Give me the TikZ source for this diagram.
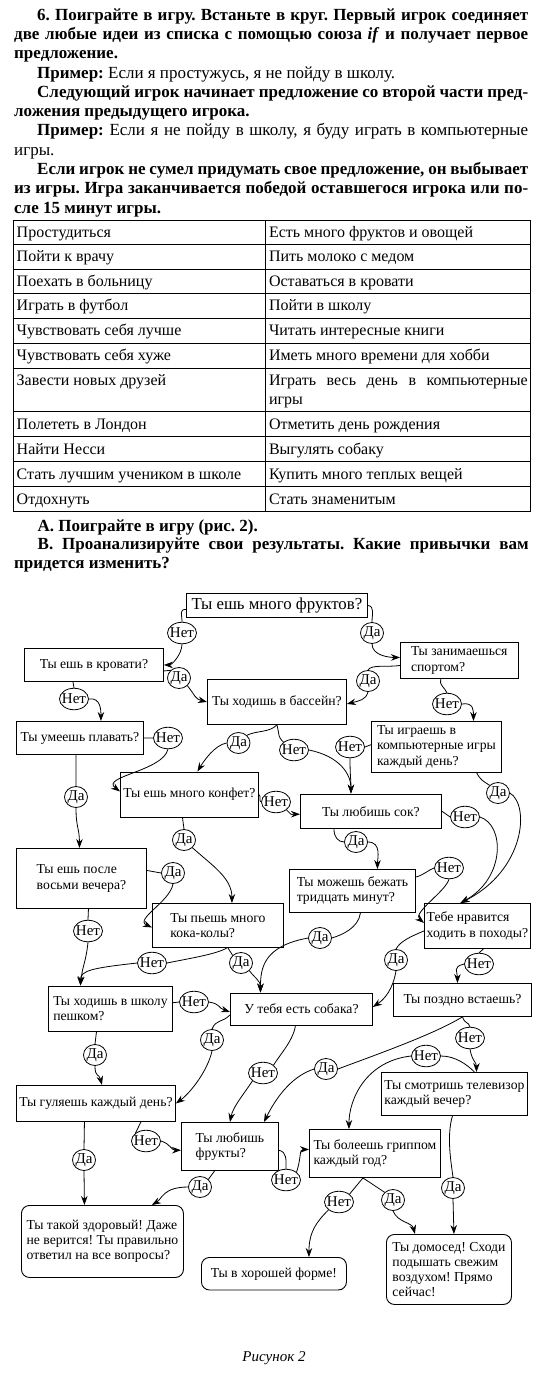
\documentclass[tikz,border=0pt]{standalone}
\usepackage{fontspec}
\setmainfont{Liberation Serif}
\usetikzlibrary{arrows.meta,calc,shapes.geometric}
\newcommand\ftop{\fontsize{17}{19.25}\selectfont}
\newcommand\ftab{\fontsize{16}{18.4}\selectfont}
\newcommand\fbx{\fontsize{13.7}{15.2}\selectfont}
\newcommand\fbig{\fontsize{16.8}{19}\selectfont}
\newcommand\flab{\fontsize{15}{15}\selectfont}
\newcommand\justline[2]{\makebox[#1][s]{#2}}
\frenchspacing
\begin{document}
\frenchspacing
\begin{tikzpicture}[x=1pt,y=-1pt,
  tb/.style={anchor=base west,inner sep=0pt,font=\ftop\bfseries},
  tr/.style={anchor=base west,inner sep=0pt,font=\ftop},
  tc/.style={anchor=base west,inner sep=0pt,font=\ftab},
  tabline/.style={line width=0.9pt},
  qb/.style={draw,line width=0.9pt,anchor=north west,inner sep=0pt,align=center,font=\fbx},
  ql/.style={qb,align=left},
  fin/.style={qb,align=left,rounded corners=8pt},
  lab/.style={draw,ellipse,line width=0.8pt,inner sep=-6pt,font=\flab,fill=white},
  net/.style={lab,minimum width=29pt,minimum height=21.5pt},
  da/.style={lab,minimum width=23pt,minimum height=21pt},
  con/.style={line width=0.8pt},
  arr/.style={con,-{Stealth[length=9pt,width=6.5pt]}}]
\fill[white] (0,0) rectangle (550,1375);
\useasboundingbox (0,0) rectangle (550,1375);

% ---------- instructions ----------
\node[tb] (t1) at (37,20.5) {\justline{491pt}{6. Поиграйте в игру. Встаньте в круг. Первый игрок соединяет}};
\node[tb] (t2) at (14,39.75) {\justline{514pt}{две любые идеи из списка с помощью союза \textit{if} и получает первое}};
\node[tb] (t3) at (14,59) {предложение.};
\node[tr] (t4) at (37,78.25) {\textbf{Пример:} Если я простужусь, я не пойду в школу.};
\node[tb] (t5) at (37,97.5) {\justline{491pt}{Следующий игрок начинает предложение со второй части пред-}};
\node[tb] (t6) at (14,116.75) {ложения предыдущего игрока.};
\node[tr] (t7) at (37,136) {\justline{491pt}{\textbf{Пример:} Если я не пойду в школу, я буду играть в компьютерные}};
\node[tr] (t8) at (14,155.25) {игры.};
\node[tb] (t9) at (37,174.5) {\justline{491pt}{Если игрок не сумел придумать свое предложение, он выбывает}};
\node[tb] (t10) at (14,193.75) {\justline{514pt}{из игры. Игра заканчивается победой оставшегося игрока или по-}};
\node[tb] (t11) at (14,213) {сле 15 минут игры.};

% ---------- table ----------
\draw[tabline] (13,220) rectangle (530,511.7);
\draw[tabline] (265.5,220) -- (265.5,511.7);
\foreach \yy in {244.3,269,293.3,318.3,343.3,368.3,411.7,436.7,461.7,486.7}
  \draw[tabline] (13,\yy) -- (530,\yy);
\foreach \yy/\ta/\tbb [count=\i] in {
  237.5/Простудиться/Есть много фруктов и овощей,
  261.8/Пойти к врачу/Пить молоко с медом,
  286.5/Поехать в больницу/Оставаться в кровати,
  310.8/Играть в футбол/Пойти в школу,
  335.8/Чувствовать себя лучше/Читать интересные книги,
  360.8/Чувствовать себя хуже/Иметь много времени для хобби,
  429.2/Полететь в Лондон/Отметить день рождения,
  454.2/Найти Несси/Выгулять собаку,
  479.2/Стать лучшим учеником в школе/Купить много теплых вещей,
  504.2/Отдохнуть/Стать знаменитым}{
  \node[tc] (la\i) at (16.5,\yy) {\ta};
  \node[tc] (ra\i) at (268.8,\yy) {\tbb};
}
\node[tc] (lb7) at (16.5,385.8) {Завести новых друзей};
\node[tc] (rb7) at (268.8,385.8) {\justline{258.6pt}{Играть весь день в компьютерные}};
\node[tc] (rc7) at (268.8,404.2) {игры};

\node[tb] (a1) at (37.5,531) {А. Поиграйте в игру (рис. 2).};
\node[tb] (b1) at (37.5,549.5) {\justline{491pt}{В. Проанализируйте свои результаты. Какие привычки вам}};
\node[tb] (b2) at (14,568) {придется изменить?};

% ---------- flowchart boxes ----------
\node[qb,minimum width=181pt,minimum height=24pt,font=\fbig] (A) at (186,593) {Ты ешь много фруктов?};
\node[qb,minimum width=139pt,minimum height=33pt] (B) at (24,648) {Ты ешь в кровати?};
\node[ql,minimum width=117.5pt,minimum height=36pt] (C) at (400,642) {Ты занимаешься\\спортом?};
\node[qb,minimum width=139pt,minimum height=45pt] (D) at (207,679) {Ты ходишь в бассейн?};
\node[qb,minimum width=127pt,minimum height=33pt] (E) at (16,721) {Ты умеешь плавать?};
\node[ql,minimum width=130pt,minimum height=50.5pt] (F) at (371,721) {Ты играешь в\\компьютерные игры\\каждый день?};
\node[qb,minimum width=138pt,minimum height=45pt] (G) at (120,771.5) {Ты ешь много конфет?};
\node[qb,minimum width=141pt,minimum height=34.5pt] (H) at (300,793.5) {Ты любишь сок?};
\node[ql,minimum width=130pt,minimum height=60pt] (I) at (16,848) {Ты ешь после\\восьми вечера?};
\node[ql,minimum width=126pt,minimum height=43pt] (L) at (289,869) {Ты можешь бежать\\тридцать минут?};
\node[ql,minimum width=131pt,minimum height=44pt] (J) at (152,903) {Ты пьешь много\\кока-колы?};
\node[ql,minimum width=106pt,minimum height=45pt] (K) at (424,903) {Тебе нравится\\ходить в походы?};
\node[ql,minimum width=124pt,minimum height=45.5pt] (M) at (48,985.5) {Ты ходишь в школу\\пешком?};
\node[qb,minimum width=142pt,minimum height=32pt] (N) at (230,992.5) {У тебя есть собака?};
\node[qb,minimum width=138pt,minimum height=33pt] (O) at (393,983) {Ты поздно встаешь?};
\node[qb,minimum width=159pt,minimum height=36pt] (P) at (16,1085) {Ты гуляешь каждый день?};
\node[ql,minimum width=146pt,minimum height=43pt] (S) at (381,1072) {Ты смотришь телевизор\\каждый вечер?};
\node[ql,minimum width=97pt,minimum height=47.5pt] (Q) at (181,1122) {Ты любишь\\фрукты?};
\node[ql,minimum width=131pt,minimum height=48pt] (T) at (309,1129) {Ты болеешь гриппом\\каждый год?};
\node[fin,minimum width=162pt,minimum height=72pt] (R) at (21,1205) {Ты такой здоровый! Даже\\не верится! Ты правильно\\ответил на все вопросы?};
\node[fin,minimum width=145pt,minimum height=32.5pt] (V) at (201,1257) {Ты в хорошей форме!};
\node[fin,minimum width=125pt,minimum height=70pt] (U) at (386,1234) {Ты домосед! Сходи\\подышать свежим\\воздухом! Прямо\\сейчас!};

% ---------- answer labels ----------
\node[net] (l1) at (182,633) {Нет};
\node[da]  (l2) at (372,633) {Да};
\node[da]  (l3) at (179,678) {Да};
\node[da]  (l4) at (368,681) {Да};
\node[net] (l5) at (74,699) {Нет};
\node[net] (l6) at (447,704) {Нет};
\node[net] (l7) at (168,738) {Нет};
\node[da]  (l8) at (238.5,743) {Да};
\node[net] (l9) at (294,750) {Нет};
\node[net] (l10) at (350,747) {Нет};
\node[da]  (l11) at (76,797) {Да};
\node[net] (l12) at (276,802) {Нет};
\node[da]  (l13) at (184,840) {Да};
\node[da]  (l14) at (498,793) {Да};
\node[net] (l15) at (465,817) {Нет};
\node[da]  (l16) at (356,842) {Да};
\node[da]  (l17) at (173,873) {Да};
\node[net] (l18) at (449,868) {Нет};
\node[net] (l19) at (88,931) {Нет};
\node[net] (l20) at (152,963) {Нет};
\node[da]  (l21) at (241,963) {Да};
\node[da]  (l22) at (320,938) {Да};
\node[da]  (l23) at (396,960) {Да};
\node[net] (l24) at (479,964) {Нет};
\node[net] (l25) at (194,1002) {Нет};
\node[da]  (l26) at (212,1040) {Да};
\node[da]  (l27) at (95,1055) {Да};
\node[net] (l28) at (263,1073) {Нет};
\node[da]  (l29) at (326,1069) {Да};
\node[net] (l30) at (470,1038) {Нет};
\node[net] (l31) at (426,1056) {Нет};
\node[net] (l32) at (146,1141) {Нет};
\node[da]  (l33) at (84,1160) {Да};
\node[da]  (l34) at (200,1187) {Да};
\node[net] (l35) at (286,1180) {Нет};
\node[net] (l36) at (339,1202) {Нет};
\node[da]  (l37) at (393,1200) {Да};
\node[da]  (l38) at (453,1188) {Да};

% ---------- connectors ----------
\draw[con] ($(A.west)+(0,4)$) .. controls +(-7,0) and +(0,-8) .. (l1.north);
\draw[arr] (l1.south) .. controls +(0,10) and +(8,0) .. (B.east);
\draw[con] (A.east) .. controls +(7,1) and +(0,-8) .. (l2.north);
\draw[arr] (l2.south) .. controls +(0,12) and +(-10,0) .. ($(C.west)+(0,-3)$);
\draw[con] ($(B.east)+(0,6)$) -- (l3.north west);
\draw[arr] (l3.south east) .. controls +(8,10) and +(-12,-3) .. (D.west);
\draw[con] ($(B.south)+(-21,0)$) -- (l5.north);
\draw[arr] (l5.east) .. controls +(12,-2) and +(0,-10) .. ($(E.north)+(21,0)$);
\draw[con] ($(C.west)+(0,5)$) .. controls +(-12,2) and +(3,-6) .. (l4.north);
\draw[arr] (l4.south) .. controls +(-2,8) and +(12,-3) .. ($(D.east)+(0,2)$);
\draw[con] ($(C.south)+(-18.5,0)$) .. controls +(-2,6) and +(-2,-5) .. (l6.north);
\draw[arr] (l6.east) .. controls +(12,-2) and +(0,-10) .. ($(F.north)+(37,0)$);
\draw[con] (E.east) -- (l7.west);
\draw[arr] (l7.south) .. controls +(-5,22) and +(-20,-15) .. ($(G.west)+(0,-3)$);
\draw[con] ($(E.south)+(-4,0)$) -- (l11.north);
\draw[arr] (l11.south) .. controls +(0,20) and +(0,-20) .. ($(I.north)+(-2,0)$);
\draw[con] (D.south) .. controls +(-8,8) and +(10,-5) .. (l8.north east);
\draw[arr] (l8.west) .. controls +(-12,2) and +(6,-10) .. ($(G.north)+(8,0)$);
\draw[con] (D.south) .. controls +(3,12) and +(-6,-6) .. (l9.north west);
\draw[arr] (l9.east) .. controls +(30,6) and +(0,-20) .. ($(H.north)+(-20,0)$);
\draw[con] ($(F.west)+(0,-2)$) -- (l10.east);
\draw[arr] (l10.south) .. controls +(0,18) and +(0,-15) .. ($(H.north)+(-20,0)$);
\draw[con] ($(F.south)+(40,0)$) .. controls +(4,8) and +(-6,-4) .. (l14.north west);
\draw[arr] (l14.east) .. controls +(20,12) and +(65,-33) .. ($(K.north)+(-17,0)$);
\draw[con] (G.east) .. controls +(3,3) and +(-3,-2) .. (l12.west);
\draw[arr] (l12.south east) .. controls +(6,6) and +(-10,0) .. ($(H.west)+(0,3)$);
\draw[con] ($(G.south)+(-7,0)$) -- (l13.north);
\draw[arr] (l13.south east) .. controls +(20,18) and +(0,-25) .. ($(J.north)+(14,0)$);
\draw[con] (H.east) -- (l15.west);
\draw[arr] (l15.east) .. controls +(25,8) and +(45,-25) .. ($(K.north)+(-17,0)$);
\draw[con] ($(H.south)+(-37,0)$) .. controls +(0,8) and +(-6,0) .. (l16.west);
\draw[arr] (l16.east) .. controls +(14,0) and +(0,-10) .. ($(L.north)+(25,0)$);
\draw[con] ($(I.east)+(0,-8)$) -- (l17.west);
\draw[arr] (l17.south) .. controls +(-3,18) and +(-18,-8) .. ($(J.west)+(0,2)$);
\draw[con] ($(I.south)+(7,0)$) -- (l19.north);
\draw[arr] (l19.south) .. controls +(-2,20) and +(2,-20) .. ($(M.north)+(-30,0)$);
\draw[con] ($(L.north east)+(0,8)$) .. controls +(8,-2) and +(-6,2) .. (l18.west);
\draw[arr] (l18.south) .. controls +(-3,12) and +(-12,-10) .. ($(K.west)+(0,-3)$);
\draw[con] ($(L.south)+(8,0)$) .. controls +(-2,15) and +(10,-3) .. (l22.east);
\draw[arr] (l22.west) .. controls +(-44,8) and +(0,-25) .. ($(N.north)+(-41,0)$);
\draw[con] ($(J.south)+(9,0)$) .. controls +(-10,6) and +(25,-5) .. (l20.east);
\draw[arr] (l20.west) .. controls +(-45,5) and +(0,-15) .. ($(M.north)+(-30,0)$);
\draw[con] ($(J.south)+(10,0)$) -- (l21.north west);
\draw[arr] (l21.south east) .. controls +(6,8) and +(0,-12) .. ($(N.north)+(-41,0)$);
\draw[con] ($(K.west)+(0,5)$) .. controls +(-12,5) and +(4,-8) .. (l23.north);
\draw[arr] (l23.south) .. controls +(-3,18) and +(12,-8) .. ($(N.east)+(0,-2)$);
\draw[con] ($(K.south)+(6,0)$) -- (l24.north);
\draw[arr] (l24.west) .. controls +(-12,3) and +(0,-12) .. ($(O.north)+(-5,0)$);
\draw[con] ($(M.east)+(0,-6)$) -- (l25.west);
\draw[arr] (l25.east) .. controls +(12,2) and +(-12,-4) .. ($(N.west)+(0,3)$);
\draw[con] ($(M.south)+(-14,0)$) -- (l27.north);
\draw[arr] (l27.south) .. controls +(0,12) and +(-3,-12) .. ($(P.north)+(6,0)$);
\draw[con] ($(N.west)+(0,6)$) .. controls +(-8,8) and +(4,-10) .. (l26.north);
\draw[arr] (l26.south) .. controls +(-4,19) and +(15,-11) .. (P.east);
\draw[con] ($(N.south)+(-6,0)$) .. controls +(-2,15) and +(6,-10) .. (l28.north east);
\draw[arr] (l28.south west) .. controls +(-10,15) and +(3,-15) .. (Q.north);
\draw[con] (O.south) .. controls +(-30,18) and +(40,-15) .. (l29.east);
\draw[arr] (l29.west) .. controls +(-25,8) and +(10,-20) .. ($(Q.north)+(34,0)$);
\draw[con] (O.south) .. controls +(3,8) and +(-2,-6) .. (l30.north);
\draw[arr] (l30.south) .. controls +(2,12) and +(0,-10) .. ($(S.north)+(22,0)$);
\draw[con] ($(S.north)+(20,0)$) .. controls +(-8,-8) and +(14,0) .. (l31.east);
\draw[arr] (l31.west) .. controls +(-45,5) and +(0,-30) .. ($(T.north)+(-26,0)$);
\draw[con] ($(S.south)+(-2,0)$) .. controls +(-6,20) and +(-2,-15) .. (l38.north);
\draw[arr] (l38.south) -- ($(U.north)+(5,0)$);
\draw[con] ($(P.south east)+(-35,0)$) -- (l32.north west);
\draw[arr] (l32.east) .. controls +(10,3) and +(-10,0) .. ($(Q.west)+(0,4)$);
\draw[con] ($(P.south)+(-11.5,0)$) -- (l33.north);
\draw[arr] (l33.south) -- ($(R.north)+(-18,0)$);
\draw[con] ($(Q.south)+(-15,0)$) -- (l34.north east);
\draw[arr] (l34.west) .. controls +(-25,0) and +(10,-6) .. ($(R.north east)+(-32,0)$);
\draw[con] ($(Q.east)+(0,4)$) .. controls +(8,2) and +(0,-10) .. (l35.north);
\draw[arr] (l35.north east) .. controls +(5,-15) and +(-10,0) .. ($(T.west)+(0,-4)$);
\draw[con] ($(T.south)+(-12,0)$) -- (l36.north east);
\draw[arr] (l36.south west) .. controls +(-12,12) and +(0,-25) .. ($(V.north)+(35,0)$);
\draw[con] ($(T.south)+(-12,0)$) -- (l37.north west);
\draw[arr] (l37.south) .. controls +(5,12) and +(-3,-12) .. ($(U.north)+(-34,0)$);

\node[font=\fontsize{15}{18}\selectfont\itshape] (cap) at (274,1358) {Рисунок 2};
\end{tikzpicture}
\end{document}
